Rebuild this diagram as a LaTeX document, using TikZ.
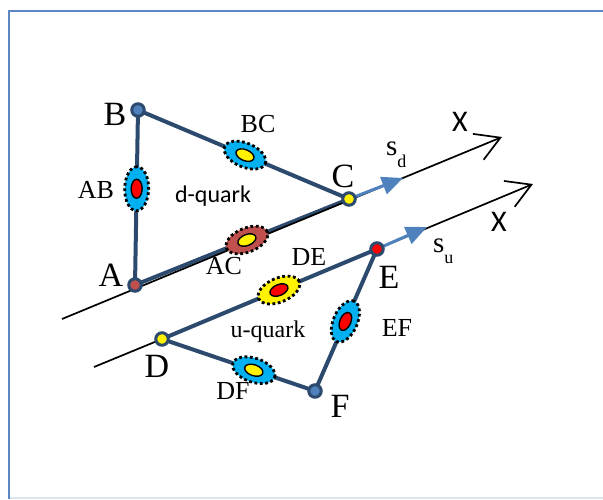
\documentclass[tikz,border=0pt]{standalone}
\usepackage{fontspec}
\setmainfont{Liberation Serif}
\newfontfamily\calfont{Carlito}
\usetikzlibrary{arrows.meta,shapes.geometric}
\definecolor{navy}{HTML}{2C4A6E}
\definecolor{blueA}{HTML}{4F81BD}
\definecolor{cyanA}{HTML}{00B0F0}
\definecolor{brownA}{HTML}{C0504D}
\definecolor{frameA}{HTML}{5B87C5}
\definecolor{frameB}{HTML}{DCE6F1}
\begin{document}
\begin{tikzpicture}[x=1pt,y=-1pt,
  edge/.style={draw=navy,line width=4pt},
  axisline/.style={draw=black,line width=1.7pt},
  axis/.style={axisline,-{Straight Barb[length=24pt,width=28pt]}},
  vec/.style={draw=blueA,line width=3pt,-{Triangle[length=21pt,width=18pt]}},
  pt/.style={circle,draw=navy,line width=3pt,inner sep=0pt,minimum size=12.5pt},
  outer/.style={ellipse,draw=black,line width=2.8pt,dash pattern=on 2.8pt off 2.6pt,minimum width=44pt,minimum height=24pt,inner sep=0pt,sloped},
  inner/.style={ellipse,draw=black,line width=1.4pt,minimum width=19pt,minimum height=11pt,inner sep=0pt,sloped},
  big/.style={font=\fontsize{34}{34}\selectfont,inner sep=0pt},
  lab/.style={font=\fontsize{26}{26}\selectfont,inner sep=0pt},
  xlab/.style={font=\calfont\fontsize{30}{30}\selectfont,inner sep=0pt},
]
\useasboundingbox (0,0) rectangle (603,499);
% frame
\draw[frameB,line width=2pt] (9,497.5) -- (603,497.5);
\draw[frameA,line width=2.5pt] (9,499) -- (9,11) -- (603,11);

% coordinates
\coordinate (B) at (138,110);
\coordinate (A) at (135,285);
\coordinate (C) at (349,199);
\coordinate (D) at (162,339);
\coordinate (E) at (377,249);
\coordinate (F) at (315,391);
\coordinate (s1) at (62,319);
\coordinate (t1) at (502,137);
\coordinate (s2) at (94,367);
\coordinate (t2) at (533,184);
\coordinate (v1) at (403,178);
\coordinate (v2) at (427,227);

% edges
\draw[edge] (B) -- (A);
\draw[edge] (B) -- (C);
\draw[edge] (A) -- (C);
\draw[edge] (D) -- (F);
\draw[edge] (F) -- (E);

% axes
\draw[axis] (s1) -- (t1);
\draw[axisline] (s2) -- (D);
\draw[axis] (E) -- (t2);
\draw[edge] (D) -- (E);

% vectors
\draw[vec] (C) -- (v1);
\draw[vec] (E) -- (v2);

% ellipses
\path (B) -- (A) node[outer,fill=cyanA,pos=0.45] (ABo) {} node[inner,fill=red,pos=0.45] (ABi) {};
\path (B) -- (C) node[outer,fill=cyanA,pos=0.507] (BCo) {} node[inner,fill=yellow,pos=0.507] (BCi) {};
\path (A) -- (C) node[outer,fill=brownA,pos=0.523] (ACo) {} node[inner,fill=yellow,pos=0.523] (ACi) {};
\path (D) -- (E) node[outer,fill=yellow,pos=0.544] (DEo) {} node[inner,fill=red,pos=0.544] (DEi) {};
\path (E) -- (F) node[outer,fill=cyanA,pos=0.51] (EFo) {} node[inner,fill=red,pos=0.51] (EFi) {};
\path (D) -- (F) node[outer,fill=cyanA,pos=0.6] (DFo) {} node[inner,fill=yellow,pos=0.6] (DFi) {};

% points
\node[pt,fill=blueA] (nB) at (B) {};
\node[pt,fill=brownA] (nA) at (A) {};
\node[pt,fill=yellow] (nC) at (C) {};
\node[pt,fill=yellow] (nD) at (D) {};
\node[pt,fill=red] (nE) at (E) {};
\node[pt,fill=blueA] (nF) at (F) {};

% labels
\node[big] (lB) at (115,114) {B};
\node[big] (lA) at (111,275) {A};
\node[big] (lC) at (343,176) {C};
\node[big] (lD) at (157,366) {D};
\node[big] (lE) at (389,277) {E};
\node[big] (lF) at (340,406) {F};
\node[lab] (lBC) at (258,124) {BC};
\node[lab] (lAB) at (96,190) {AB};
\node[lab] (lAC) at (224,266) {AC};
\node[lab] (lDE) at (309,257) {DE};
\node[lab] (lEF) at (397,328) {EF};
\node[lab] (lDF) at (233,391) {DF};
\node[font=\calfont\fontsize{24}{24}\selectfont,inner sep=0pt,anchor=base] (dq) at (213,202) {d-quark};
\node[font=\fontsize{24}{24}\selectfont,inner sep=0pt,anchor=base] (uq) at (268,337) {u-quark};
\node[xlab] (X1) at (460,122) {X};
\node[xlab] (X2) at (499,222) {X};
\node[font=\fontsize{29}{29}\selectfont,inner sep=0pt,anchor=base west] (sd) at (386,155) {s\raisebox{-12pt}{\fontsize{18}{18}\selectfont d}};
\node[font=\fontsize{29}{29}\selectfont,inner sep=0pt,anchor=base west] (su) at (433,252) {s\raisebox{-11pt}{\fontsize{18}{18}\selectfont u}};
\end{tikzpicture}
\end{document}
